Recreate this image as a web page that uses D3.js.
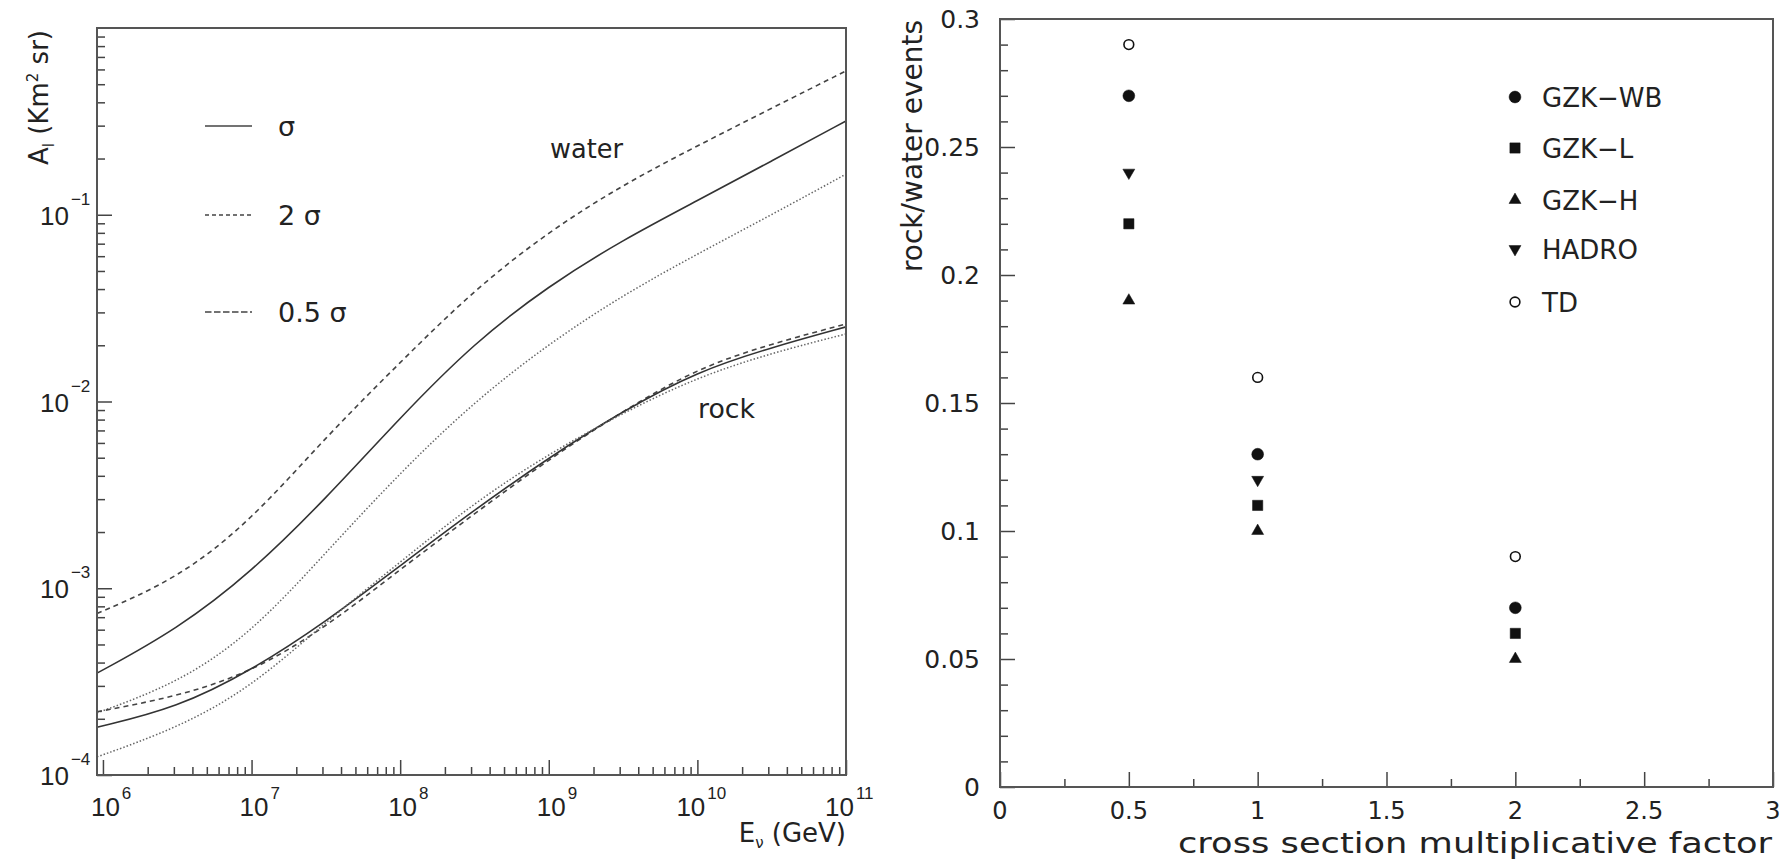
<!DOCTYPE html>
<html>
<head>
<meta charset="utf-8">
<script src="https://cdn.jsdelivr.net/npm/d3@7"></script>
<style>
  body { margin: 0; background: #fff; }
  svg { display: block; }
  .tick line { stroke: #444; stroke-width: 1.5; }
  text { fill: #222; }
</style>
</head>
<body>
<script>
// ---- left panel: acceptance vs neutrino energy ----
const energies = [9.12e5, 3.16e6, 1e7, 3.16e7, 1e8, 3.16e8, 1e9, 3.16e9, 1e10, 3.16e10, 1e11];
const water2 = [7.33e-4, 1.12e-3, 2.31e-3, 6.46e-3, 1.62e-2, 3.98e-2, 8.13e-2, 0.145, 0.234, 0.372, 0.589];
const water1 = [3.51e-4, 6.03e-4, 1.22e-3, 3.02e-3, 8.22e-3, 2.07e-2, 4.17e-2, 7.35e-2, 0.119, 0.194, 0.318];
const water05 = [2.15e-4, 3.09e-4, 5.74e-4, 1.55e-3, 4.17e-3, 1.0e-2, 2.04e-2, 3.72e-2, 6.17e-2, 0.100, 0.165];
const rock2 = [2.18e-4, 2.63e-4, 3.55e-4, 6.17e-4, 1.26e-3, 2.51e-3, 4.90e-3, 8.91e-3, 1.51e-2, 2.04e-2, 2.60e-2];
const rock1 = [1.80e-4, 2.29e-4, 3.63e-4, 6.61e-4, 1.32e-3, 2.63e-3, 5.01e-3, 8.91e-3, 1.45e-2, 1.95e-2, 2.51e-2];
const rock05 = [1.25e-4, 1.78e-4, 2.95e-4, 6.61e-4, 1.38e-3, 2.88e-3, 5.25e-3, 8.71e-3, 1.35e-2, 1.82e-2, 2.30e-2];
const legendLabels = ['σ', '2 σ', '0.5 σ'];
const xExponents = [6, 7, 8, 9, 10, 11];
const yExponents = [-1, -2, -3, -4];

// ---- right panel: rock/water ratio vs cross section factor ----
const factors = [0.5, 1, 2];
const gzkWB = [0.27, 0.13, 0.07];
const gzkL = [0.22, 0.11, 0.06];
const gzkH = [0.19, 0.10, 0.05];
const hadro = [0.24, 0.12, null];
const td = [0.29, 0.16, 0.09];
const seriesNames = ['GZK−WB', 'GZK−L', 'GZK−H', 'HADRO', 'TD'];
const ratioTicks = [0, 0.05, 0.1, 0.15, 0.2, 0.25, 0.3];
const factorTicks = [0, 0.5, 1, 1.5, 2, 2.5, 3];

const svg = d3.select('body').append('svg')
  .attr('width', 1785)
  .attr('height', 861);

const left = {x0: 97, x1: 846, y0: 28, y1: 775};
const right = {x0: 1000, x1: 1773, y0: 19, y1: 787};

/* ================= LEFT PANEL ================= */
const xE = d3.scaleLog().domain([Math.pow(10, 5.96), 1e11]).range([left.x0, left.x1]);
const yA = d3.scaleLog().domain([1e-4, 1]).range([left.y1, left.y0]);

// minor log ticks 2..9 x 10^n that fall in the domain
function logMinors(scale, lo, hi) {
  const out = [];
  for (let n = lo; n <= hi; n++) {
    for (let m = 2; m <= 9; m++) {
      const v = m * Math.pow(10, n);
      const d = scale.domain();
      if (v > d[0] && v < d[1]) out.push(v);
    }
  }
  return out;
}

const gx = svg.append('g').attr('transform', `translate(0,${left.y1})`);
gx.append('g').call(d3.axisBottom(xE).tickValues(xExponents.map(e => Math.pow(10, e))).tickSize(-15).tickFormat(''));
gx.append('g').call(d3.axisBottom(xE).tickValues(logMinors(xE, 5, 10)).tickSize(-8).tickFormat(''));
gx.selectAll('.domain').remove();

const gy = svg.append('g').attr('transform', `translate(${left.x0},0)`);
gy.append('g').call(d3.axisLeft(yA).tickValues([1e-4, 1e-3, 1e-2, 1e-1]).tickSize(-15).tickFormat(''));
gy.append('g').call(d3.axisLeft(yA).tickValues(logMinors(yA, -4, -1)).tickSize(-8).tickFormat(''));
gy.selectAll('.domain').remove();

// x tick labels 10^n
xExponents.forEach(e => {
  const s = String(e);
  const t = svg.append('text')
    .attr('x', xE(Math.pow(10, e)) - 12 - 9 * (s.length - 1))
    .attr('y', 816)
    .attr('font-family', 'Liberation Sans, Arial, sans-serif')
    .attr('font-size', 26);
  t.append('tspan').text('10');
  t.append('tspan').attr('dy', -17).attr('dx', 2).attr('font-size', 17).text(s);
});

// y tick labels 10^-n
yExponents.forEach(e => {
  const t = svg.append('text')
    .attr('x', 40)
    .attr('y', yA(Math.pow(10, e)) + 10)
    .attr('font-family', 'Liberation Sans, Arial, sans-serif')
    .attr('font-size', 26);
  t.append('tspan').text('10');
  t.append('tspan').attr('dy', -20).attr('dx', 2).attr('font-size', 17).text('−' + Math.abs(e));
});

// curves
const line = d3.line()
  .x((d, i) => xE(energies[i]))
  .y(d => yA(d))
  .curve(d3.curveBasis);

const styles = {
  solid: {stroke: '#333', width: 1.6, dash: null},
  dashed: {stroke: '#444', width: 1.6, dash: '5,4'},
  dotted: {stroke: '#666', width: 1.5, dash: '1.5,2'}
};
const curves = [
  {vals: water2, st: 'dashed'},
  {vals: water1, st: 'solid'},
  {vals: water05, st: 'dotted'},
  {vals: rock2, st: 'dashed'},
  {vals: rock1, st: 'solid'},
  {vals: rock05, st: 'dotted'}
];
svg.append('g').selectAll('path')
  .data(curves)
  .join('path')
  .attr('d', d => line(d.vals))
  .attr('fill', 'none')
  .attr('stroke', d => styles[d.st].stroke)
  .attr('stroke-width', d => styles[d.st].width)
  .attr('stroke-dasharray', d => styles[d.st].dash);

// legend
const legY = [126, 215, 312];
const legDash = [null, '4,3', '6.5,2.5'];
legendLabels.forEach((lab, i) => {
  svg.append('line')
    .attr('x1', 205).attr('x2', 252)
    .attr('y1', legY[i]).attr('y2', legY[i])
    .attr('stroke', '#444').attr('stroke-width', 1.6)
    .attr('stroke-dasharray', legDash[i]);
  svg.append('text')
    .attr('x', 278).attr('y', legY[i] + 10)
    .attr('font-family', 'DejaVu Sans, sans-serif')
    .attr('font-size', 27)
    .text(lab);
});

svg.append('text').attr('x', 550).attr('y', 158)
  .attr('font-family', 'DejaVu Sans, sans-serif').attr('font-size', 27)
  .attr('textLength', 73).attr('lengthAdjust', 'spacingAndGlyphs')
  .text('water');
svg.append('text').attr('x', 698).attr('y', 418)
  .attr('font-family', 'DejaVu Sans, sans-serif').attr('font-size', 27)
  .attr('textLength', 57).attr('lengthAdjust', 'spacingAndGlyphs')
  .text('rock');

// axis titles
const eTitle = svg.append('text')
  .attr('x', 846).attr('y', 842)
  .attr('text-anchor', 'end')
  .attr('font-family', 'DejaVu Sans, sans-serif')
  .attr('font-size', 26);
eTitle.append('tspan').text('E');
eTitle.append('tspan').attr('dy', 6).attr('font-size', 15).text('ν');
eTitle.append('tspan').attr('dy', -6).text(' (GeV)');

const aTitle = svg.append('text')
  .attr('transform', 'translate(48,30) rotate(-90)')
  .attr('text-anchor', 'end')
  .attr('font-family', 'DejaVu Sans, sans-serif')
  .attr('font-size', 26);
aTitle.append('tspan').text('A');
aTitle.append('tspan').attr('dy', 6).attr('font-size', 15).text('l');
aTitle.append('tspan').attr('dy', -6).text(' (Km');
aTitle.append('tspan').attr('dy', -10).attr('font-size', 15).text('2');
aTitle.append('tspan').attr('dy', 10).text(' sr)');

svg.append('rect')
  .attr('x', left.x0).attr('y', left.y0)
  .attr('width', left.x1 - left.x0).attr('height', left.y1 - left.y0)
  .attr('fill', 'none').attr('stroke', '#555').attr('stroke-width', 2);

/* ================= RIGHT PANEL ================= */
const xF = d3.scaleLinear().domain([0, 3]).range([right.x0, right.x1]);
const yR = d3.scaleLinear().domain([0, 0.3]).range([right.y1, right.y0]);

const rx = svg.append('g').attr('transform', `translate(0,${right.y1})`);
rx.append('g').call(d3.axisBottom(xF).tickValues(factorTicks).tickSize(-15).tickFormat(''));
rx.append('g').call(d3.axisBottom(xF).tickValues(d3.range(0.25, 3, 0.5)).tickSize(-8).tickFormat(''));
rx.selectAll('.domain').remove();

const ry = svg.append('g').attr('transform', `translate(${right.x0},0)`);
ry.append('g').call(d3.axisLeft(yR).tickValues(ratioTicks).tickSize(-15).tickFormat(''));
ry.append('g').call(d3.axisLeft(yR).tickValues(d3.range(0, 0.3, 0.01).filter((v, i) => i % 5 !== 0)).tickSize(-8).tickFormat(''));
ry.selectAll('.domain').remove();

svg.append('g').selectAll('text')
  .data(factorTicks)
  .join('text')
  .attr('x', d => xF(d))
  .attr('y', 819)
  .attr('text-anchor', 'middle')
  .attr('font-family', 'DejaVu Sans, sans-serif')
  .attr('font-size', 24)
  .text(d => d);

svg.append('g').selectAll('text')
  .data(ratioTicks)
  .join('text')
  .attr('x', 980)
  .attr('y', d => yR(d) + 9)
  .attr('text-anchor', 'end')
  .attr('font-family', 'DejaVu Sans, sans-serif')
  .attr('font-size', 25)
  .text(d => d);

svg.append('text')
  .attr('transform', 'translate(922,20) rotate(-90)')
  .attr('text-anchor', 'end')
  .attr('font-family', 'DejaVu Sans, sans-serif')
  .attr('font-size', 28)
  .text('rock/water events');

svg.append('text')
  .attr('x', 1772).attr('y', 853)
  .attr('text-anchor', 'end')
  .attr('font-family', 'DejaVu Sans, sans-serif')
  .attr('font-size', 28)
  .attr('textLength', 594).attr('lengthAdjust', 'spacingAndGlyphs')
  .text('cross section multiplicative factor');

// markers
const symbols = [
  {vals: gzkWB, type: d3.symbolCircle, size: 110, rot: 0, open: false},
  {vals: gzkL, type: d3.symbolSquare, size: 105, rot: 0, open: false},
  {vals: gzkH, type: d3.symbolTriangle, size: 62, rot: 0, open: false},
  {vals: hadro, type: d3.symbolTriangle, size: 62, rot: 180, open: false},
  {vals: td, type: d3.symbolCircle, size: 75, rot: 0, open: true}
];

function drawMarker(g, s, x, y) {
  g.append('path')
    .attr('d', d3.symbol().type(s.type).size(s.size)())
    .attr('transform', `translate(${x},${y}) rotate(${s.rot})`)
    .attr('fill', s.open ? '#fff' : '#111')
    .attr('stroke', '#111')
    .attr('stroke-width', s.open ? 1.6 : 0.5);
}

const marks = svg.append('g');
symbols.forEach(s => {
  s.vals.forEach((v, i) => {
    if (v === null) return;
    drawMarker(marks, s, xF(factors[i]), yR(v));
  });
});

// legend right
const legRows = [97, 148, 200, 249, 302];
seriesNames.forEach((name, i) => {
  drawMarker(marks, symbols[i], 1515, legRows[i]);
  svg.append('text')
    .attr('x', 1542).attr('y', legRows[i] + 10)
    .attr('font-family', 'DejaVu Sans, sans-serif')
    .attr('font-size', 26)
    .text(name);
});

svg.append('rect')
  .attr('x', right.x0).attr('y', right.y0)
  .attr('width', right.x1 - right.x0).attr('height', right.y1 - right.y0)
  .attr('fill', 'none').attr('stroke', '#555').attr('stroke-width', 2);
</script>
</body>
</html>
